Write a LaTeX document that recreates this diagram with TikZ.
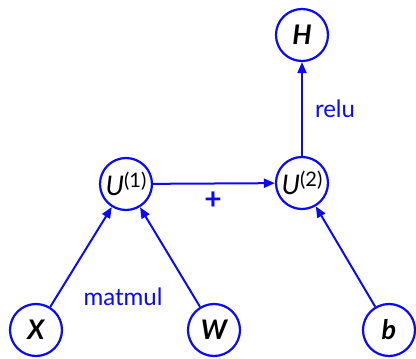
\documentclass[tikz,border=0pt]{standalone}
\usepackage{fontspec}
\setmainfont{Lato}
\usetikzlibrary{arrows.meta}
\definecolor{lblue}{RGB}{10,10,245}
\tikzset{
  var/.style={circle, draw=lblue, line width=2.2pt, minimum size=52pt, inner sep=0pt, fill=white, font=\fontsize{27}{30}\selectfont},
  edge/.style={draw=lblue, line width=2pt, -{Triangle[length=11pt,width=9pt]}},
  lbl/.style={text=lblue, font=\fontsize{24}{28}\selectfont}
}
\begin{document}
\begin{tikzpicture}[x=1pt,y=-1pt]
\useasboundingbox (0,0) rectangle (416,359);
\node[var] (H) at (302,35) {\bfseries\itshape H};
\node[var] (U2) at (302,183) {\itshape U\normalfont\fontsize{20}{22}\selectfont\raisebox{8pt}{(2)}};
\node[var] (U1) at (126,184) {\itshape U\normalfont\fontsize{20}{22}\selectfont\raisebox{8pt}{(1)}};
\node[var] (X) at (36,330) {\bfseries\itshape X};
\node[var] (W) at (214,330) {\bfseries\itshape W};
\node[var] (b) at (389,330) {\bfseries\itshape b};
\draw[edge] (X) -- (U1);
\draw[edge] (W) -- (U1);
\draw[edge] (U1) -- (U2);
\draw[edge] (U2) -- (H);
\draw[edge] (b) -- (U2);
\node[lbl] (mm) at (123,297) {matmul};
\node[lbl, font=\fontsize{30}{32}\selectfont\bfseries] (plus) at (213,201) {+};
\node[lbl] (relu) at (335,109) {relu};
\end{tikzpicture}
\end{document}
